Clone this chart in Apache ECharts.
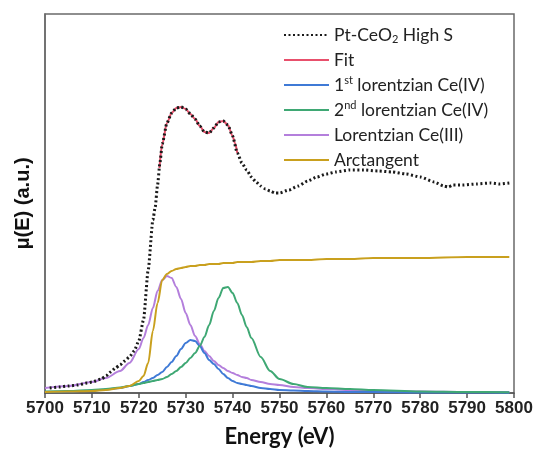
<!DOCTYPE html>
<html>
<head>
<meta charset="utf-8">
<script src="https://cdn.jsdelivr.net/npm/echarts@6/dist/echarts.min.js"></script>
<style>
  html, body { margin: 0; padding: 0; background: #fff; }
  #main { width: 536px; height: 458px; }
</style>
</head>
<body>
<div id="main"></div>
<script>
// measured spectrum (Pt-CeO2 High S)
var dataEnergy = [5701,5703,5705,5707,5709,5710,5712,5713,5714,5715,5716,5717,5718,5719,5720,5721,5722,5723,5723.5,5724,5724.5,5725,5726,5727,5728,5729,5730,5731,5732,5733,5734,5735,5736,5737,5738,5739,5740,5741,5742,5743,5744,5745,5746,5747,5748,5749,5750,5752,5754,5756,5758,5760,5762,5765,5768,5771,5774,5777,5780,5783,5785,5786,5787,5789,5792,5795,5797,5799];
var dataMu = [5,6,7,8,10,11,14,17,21,25,28,32,36,42,52,73,123,173,186,208,230,249,270,280,285,286,284,279,274,267,261,260,265,271,272,268,257,240,230,223,216,211,207,204,202,200,200,203,207,212,216,219,221,223,223,222,221,219,216,211,207,206,208,208,209,210,209,210];

// fit over the white line region
var fitEnergy = [5724.4,5725,5726,5727,5728,5729,5730,5731,5732,5733,5734,5735,5736,5737,5738,5739,5740,5740.5,5741];
var fitMu = [225,249,270,280,285,286,284,279,274,267,261,260,265,271,272,268,257,250,240];

// components
var compEnergy = [5700,5705,5710,5713,5716,5718,5720,5721,5722,5723,5724,5725,5726,5727,5728,5729,5730,5731,5732,5733,5734,5735,5736,5737,5738,5739,5740,5741,5742,5743,5744,5746,5748,5750,5753,5756,5760,5765,5770,5780,5790,5799];
var lor1Ce4 = [1,1.5,2.5,3.5,5,7,9,11,13,15,18,21,26,31,37,44,50,53,52,47,40,33,29,24,19,15,12,10,9,8,7,5,4,3,2.5,2,1.5,1,1,0.5,0.5,0.3];
var lor2Ce4 = [1.5,2,3,4,5.5,7,9,10,11,12,13,14,16,19,22,26,30,35,40,47,56,68,82,95,105,106,100,90,78,66,55,36,22,14,9,6,5,4,3,1.5,1,0.8];
var lorCe3 = [5,7,11,15,22,30,44,55,68,85,102,113,117,115,106,94,80,68,57,49,42,37,32,28,25,22,20,18,16,15,13,11,9,8,6,5,4,3,2,1.5,1,1];
var arctan = [1,1.5,2,3,5,7,12,17,30,62,90,113,119,122,124,125,126,127,127,128,128,129,129,129,130,130,130,131,131,131,131,132,132,133,133,133,134,134,135,135,136,136];

var xTicks = [5700, 5800, 10];

function pairs(xs, ys) {
  return xs.map(function (x, i) { return [x, ys[i]]; });
}

var legendLabels = {
  'Pt-CeO2 High S': 'Pt-CeO{sub|2} High S',
  'Fit': 'Fit',
  '1st lorentzian Ce(IV)': '1{sup|st} lorentzian Ce(IV)',
  '2nd lorentzian Ce(IV)': '2{sup|nd} lorentzian Ce(IV)',
  'Lorentzian Ce(III)': 'Lorentzian Ce(III)',
  'Arctangent': 'Arctangent'
};

function comp(name, color, data) {
  return {
    name: name, type: 'line', data: data, showSymbol: false, symbol: 'none',
    smooth: 0.3, smoothMonotone: 'x',
    lineStyle: { color: color, width: 2 }, itemStyle: { color: color }
  };
}

var myChart = echarts.init(document.getElementById('main'));
myChart.setOption({
  animation: false,
  grid: { left: 45, right: 22, top: 14, bottom: 65, show: true, borderColor: '#6a6a6a', borderWidth: 1.5 },
  legend: {
    orient: 'vertical', left: 278, top: 20,
    itemWidth: 45, itemHeight: 10, itemGap: 5,
    itemStyle: { opacity: 0 },
    data: ['Pt-CeO2 High S', 'Fit', '1st lorentzian Ce(IV)', '2nd lorentzian Ce(IV)', 'Lorentzian Ce(III)', 'Arctangent'],
    formatter: function (name) { return legendLabels[name]; },
    textStyle: {
      fontFamily: 'Lato', fontSize: 17.5, lineHeight: 20, color: '#222',
      rich: {
        sup: { fontFamily: 'Lato', fontSize: 11, lineHeight: 20, verticalAlign: 'top', color: '#222' },
        sub: { fontFamily: 'Lato', fontSize: 11, lineHeight: 14, verticalAlign: 'bottom', padding: [6, 0, 0, 0], color: '#222' }
      }
    }
  },
  xAxis: {
    type: 'value', min: xTicks[0], max: xTicks[1], interval: xTicks[2],
    name: 'Energy (eV)', nameLocation: 'middle', nameGap: 33,
    nameTextStyle: { fontFamily: 'Lato', fontWeight: 'bold', fontSize: 22, color: '#111' },
    axisLine: { lineStyle: { color: '#555', width: 1.5 } },
    axisTick: { length: 5, lineStyle: { color: '#555', width: 1.5 } },
    axisLabel: {
      fontFamily: 'Liberation Sans', fontWeight: 'bold', fontSize: 17, color: '#222', margin: 7,
      formatter: function (v) { return String(v); }
    },
    splitLine: { show: false }
  },
  yAxis: {
    type: 'value', min: 0, max: 379,
    name: 'μ(E) (a.u.)', nameLocation: 'middle', nameGap: 12,
    nameTextStyle: { fontFamily: 'Liberation Sans', fontWeight: 'bold', fontSize: 20, color: '#111' },
    axisLine: { show: true, lineStyle: { color: '#6a6a6a', width: 1.5 } },
    axisTick: { show: false }, axisLabel: { show: false }, splitLine: { show: false }
  },
  series: [
    comp('Lorentzian Ce(III)', '#b47fdc', pairs(compEnergy, lorCe3)),
    comp('1st lorentzian Ce(IV)', '#3f7ad6', pairs(compEnergy, lor1Ce4)),
    comp('2nd lorentzian Ce(IV)', '#3fa874', pairs(compEnergy, lor2Ce4)),
    comp('Arctangent', '#c9a01e', pairs(compEnergy, arctan)),
    comp('Fit', '#e8506c', pairs(fitEnergy, fitMu)),
    {
      name: 'Pt-CeO2 High S', type: 'line', data: pairs(dataEnergy, dataMu),
      showSymbol: false, symbol: 'none', smooth: 0.2, smoothMonotone: 'x',
      lineStyle: { color: '#1a1a1a', width: 3, type: [2, 2.5] },
      itemStyle: { color: '#1a1a1a' }
    }
  ]
});
</script>
</body>
</html>
